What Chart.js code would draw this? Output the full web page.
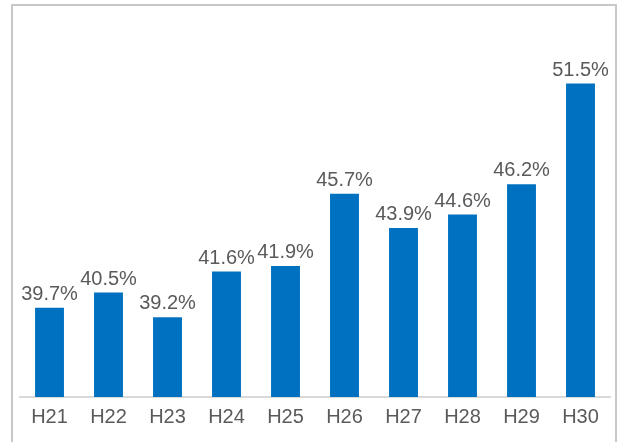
<!DOCTYPE html>
<html>
<head>
<meta charset="utf-8">
<script src="https://cdn.jsdelivr.net/npm/chart.js@4"></script>
<style>
  html, body { margin: 0; padding: 0; background: #fff; overflow: hidden; }
  #wrap { position: relative; width: 620px; height: 442px; }
  #frame {
    position: absolute; left: 11px; top: 4px; width: 602px; height: 460px;
    border: 2px solid #c8c8c8; box-sizing: content-box;
  }
  #myChart { position: absolute; left: 0; top: 0; }
</style>
</head>
<body>
<div id="wrap">
  <div id="frame"></div>
  <canvas id="myChart" width="620" height="442"></canvas>
</div>
<script>
const years = ['H21', 'H22', 'H23', 'H24', 'H25', 'H26', 'H27', 'H28', 'H29', 'H30'];
const rates = [39.7, 40.5, 39.2, 41.6, 41.9, 45.7, 43.9, 44.6, 46.2, 51.5];

const FONT = '"Liberation Sans", Arial, sans-serif';
const TEXT = '#5a5a5a';

// value labels over each bar
const barLabels = {
    id: 'barLabels',
    afterDatasetsDraw(chart) {
        const ctx = chart.ctx;
        const meta = chart.getDatasetMeta(0);
        ctx.save();
        ctx.font = '20px ' + FONT;
        ctx.fillStyle = TEXT;
        ctx.textAlign = 'center';
        ctx.textBaseline = 'alphabetic';
        meta.data.forEach((bar, i) => {
            ctx.fillText(rates[i].toFixed(1) + '%', bar.x, bar.y - 8);
        });
        ctx.restore();
    }
};

const ctx = document.getElementById('myChart');

new Chart(ctx, {
    type: 'bar',
    data: {
        labels: years,
        datasets: [{
            data: rates,
            backgroundColor: '#0070c0',
            borderWidth: 0,
            categoryPercentage: 1,
            barPercentage: 0.49
        }]
    },
    options: {
        responsive: false,
        animation: false,
        layout: { padding: { left: 20, right: 10, top: 17, bottom: 5 } },
        plugins: {
            legend: { display: false },
            tooltip: { enabled: false }
        },
        scales: {
            y: {
                display: false,
                min: 35,
                max: 55
            },
            x: {
                grid: { display: false, drawTicks: false },
                border: { display: true, color: '#d9d9d9', width: 2 },
                ticks: {
                    color: TEXT,
                    padding: 8,
                    font: { family: FONT, size: 20 }
                }
            }
        }
    },
    plugins: [barLabels]
});
</script>
</body>
</html>
